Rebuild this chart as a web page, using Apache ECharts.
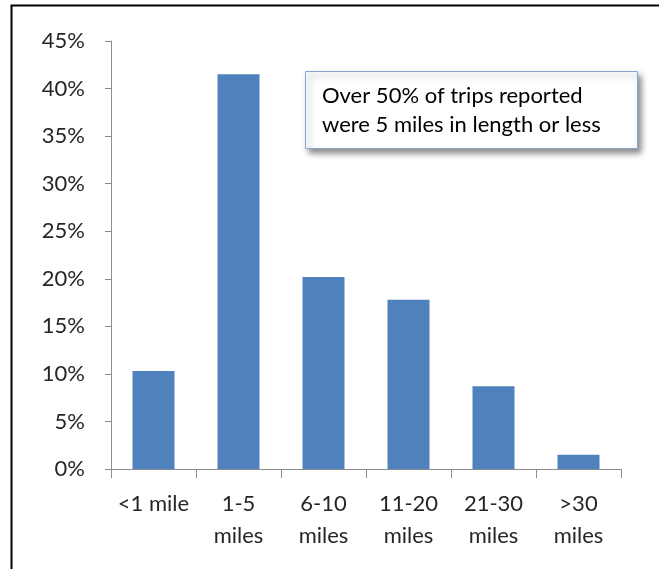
<!DOCTYPE html>
<html>
<head>
<meta charset="utf-8">
<script src="https://cdn.jsdelivr.net/npm/echarts@6/dist/echarts.min.js"></script>
<style>
html,body{margin:0;padding:0;background:#fff;}
#chart{width:659px;height:569px;}
</style>
</head>
<body>
<div id="chart"></div>
<script>
const categories = ['<1 mile', '1-5\nmiles', '6-10\nmiles', '11-20\nmiles', '21-30\nmiles', '>30\nmiles'];
const shares = [10.3, 41.5, 20.2, 17.8, 8.7, 1.5];
const yMin = 0, yMax = 45, yStep = 5;
const noteLines = ['Over 50% of trips reported', 'were 5 miles in length or less'];

const FONT = 'Lato, "Open Sans", sans-serif';
const chart = echarts.init(document.getElementById('chart'), null, {renderer: 'canvas'});
chart.setOption({
  animation: false,
  backgroundColor: '#ffffff',
  grid: {left: 111, right: 38, top: 41, bottom: 100},
  xAxis: {
    type: 'category',
    data: categories,
    boundaryGap: true,
    axisLine: {show: true, lineStyle: {color: '#8c8c8c', width: 1}},
    axisTick: {show: true, alignWithLabel: false, length: 9, lineStyle: {color: '#8c8c8c'}},
    axisLabel: {color: '#262626', fontFamily: FONT, fontSize: 22, lineHeight: 32, margin: 19, interval: 0}
  },
  yAxis: {
    type: 'value',
    min: yMin, max: yMax, interval: yStep,
    axisLine: {show: true, lineStyle: {color: '#8c8c8c', width: 1}},
    axisTick: {show: true, length: 6, lineStyle: {color: '#8c8c8c'}},
    splitLine: {show: false},
    axisLabel: {color: '#262626', fontFamily: FONT, fontSize: 22, margin: 26, formatter: '{value}%'}
  },
  series: [{
    type: 'bar',
    data: shares,
    barWidth: 42,
    itemStyle: {color: '#4F81BD'}
  }],
  graphic: [
    {type: 'rect', shape: {x: 11.5, y: 5.5, width: 700, height: 700}, style: {fill: 'none', stroke: '#000', lineWidth: 2}, silent: true, z: 100},
    {type: 'rect', shape: {x: 305.5, y: 71.5, width: 332, height: 77},
      style: {fill: '#ffffff', stroke: '#8aa6d0', lineWidth: 1, shadowBlur: 6, shadowOffsetX: 3, shadowOffsetY: 4, shadowColor: 'rgba(0,0,0,0.45)'}, z: 50},
    {type: 'text', x: 322, y: 96, style: {text: noteLines[0], fill: '#000', font: '22px ' + FONT, textVerticalAlign: 'middle'}, z: 51},
    {type: 'text', x: 322, y: 125, style: {text: noteLines[1], fill: '#000', font: '22px ' + FONT, textVerticalAlign: 'middle'}, z: 51}
  ]
});
</script>
</body>
</html>
